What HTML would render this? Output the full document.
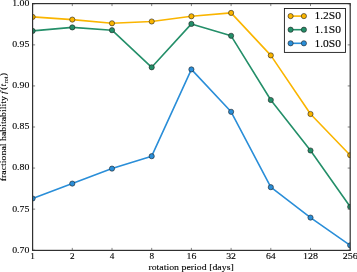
<!DOCTYPE html>
<html><head><meta charset="utf-8"><style>
html,body{margin:0;padding:0;background:#fff;width:357px;height:272px;overflow:hidden;}
svg{display:block;will-change:transform;font-family:"Liberation Serif",serif;}
text{stroke:#000;stroke-width:0.1;}
</style></head><body>
<svg width="357" height="272" viewBox="0 0 357 272">
<rect width="357" height="272" fill="#fff"/>
<defs><clipPath id="ax"><rect x="32.6" y="3.6" width="317.59999999999997" height="246.4"/></clipPath></defs>
<g clip-path="url(#ax)">
<polyline points="32.60,198.50 72.30,183.60 112.00,168.60 151.70,156.20 191.40,69.40 231.10,111.80 270.80,187.20 310.50,217.60 350.20,245.30" fill="none" stroke="#2a8ed8" stroke-width="1.6" stroke-linejoin="round"/>
<circle cx="32.60" cy="198.50" r="2.6" fill="#2a8ed8" stroke="#202020" stroke-width="0.6"/>
<circle cx="72.30" cy="183.60" r="2.6" fill="#2a8ed8" stroke="#202020" stroke-width="0.6"/>
<circle cx="112.00" cy="168.60" r="2.6" fill="#2a8ed8" stroke="#202020" stroke-width="0.6"/>
<circle cx="151.70" cy="156.20" r="2.6" fill="#2a8ed8" stroke="#202020" stroke-width="0.6"/>
<circle cx="191.40" cy="69.40" r="2.6" fill="#2a8ed8" stroke="#202020" stroke-width="0.6"/>
<circle cx="231.10" cy="111.80" r="2.6" fill="#2a8ed8" stroke="#202020" stroke-width="0.6"/>
<circle cx="270.80" cy="187.20" r="2.6" fill="#2a8ed8" stroke="#202020" stroke-width="0.6"/>
<circle cx="310.50" cy="217.60" r="2.6" fill="#2a8ed8" stroke="#202020" stroke-width="0.6"/>
<circle cx="350.20" cy="245.30" r="2.6" fill="#2a8ed8" stroke="#202020" stroke-width="0.6"/>
<polyline points="32.60,30.90 72.30,27.40 112.00,30.20 151.70,67.30 191.40,23.90 231.10,35.80 270.80,100.00 310.50,150.50 350.20,206.80" fill="none" stroke="#248f69" stroke-width="1.6" stroke-linejoin="round"/>
<circle cx="32.60" cy="30.90" r="2.6" fill="#248f69" stroke="#202020" stroke-width="0.6"/>
<circle cx="72.30" cy="27.40" r="2.6" fill="#248f69" stroke="#202020" stroke-width="0.6"/>
<circle cx="112.00" cy="30.20" r="2.6" fill="#248f69" stroke="#202020" stroke-width="0.6"/>
<circle cx="151.70" cy="67.30" r="2.6" fill="#248f69" stroke="#202020" stroke-width="0.6"/>
<circle cx="191.40" cy="23.90" r="2.6" fill="#248f69" stroke="#202020" stroke-width="0.6"/>
<circle cx="231.10" cy="35.80" r="2.6" fill="#248f69" stroke="#202020" stroke-width="0.6"/>
<circle cx="270.80" cy="100.00" r="2.6" fill="#248f69" stroke="#202020" stroke-width="0.6"/>
<circle cx="310.50" cy="150.50" r="2.6" fill="#248f69" stroke="#202020" stroke-width="0.6"/>
<circle cx="350.20" cy="206.80" r="2.6" fill="#248f69" stroke="#202020" stroke-width="0.6"/>
<polyline points="32.60,16.90 72.30,19.60 112.00,23.30 151.70,21.50 191.40,16.30 231.10,12.90 270.80,55.40 310.50,114.00 350.20,155.20" fill="none" stroke="#fab500" stroke-width="1.6" stroke-linejoin="round"/>
<circle cx="32.60" cy="16.90" r="2.6" fill="#fab500" stroke="#202020" stroke-width="0.6"/>
<circle cx="72.30" cy="19.60" r="2.6" fill="#fab500" stroke="#202020" stroke-width="0.6"/>
<circle cx="112.00" cy="23.30" r="2.6" fill="#fab500" stroke="#202020" stroke-width="0.6"/>
<circle cx="151.70" cy="21.50" r="2.6" fill="#fab500" stroke="#202020" stroke-width="0.6"/>
<circle cx="191.40" cy="16.30" r="2.6" fill="#fab500" stroke="#202020" stroke-width="0.6"/>
<circle cx="231.10" cy="12.90" r="2.6" fill="#fab500" stroke="#202020" stroke-width="0.6"/>
<circle cx="270.80" cy="55.40" r="2.6" fill="#fab500" stroke="#202020" stroke-width="0.6"/>
<circle cx="310.50" cy="114.00" r="2.6" fill="#fab500" stroke="#202020" stroke-width="0.6"/>
<circle cx="350.20" cy="155.20" r="2.6" fill="#fab500" stroke="#202020" stroke-width="0.6"/>
</g>
<line x1="32.60" y1="250.4" x2="32.60" y2="247.9" stroke="#777" stroke-width="0.9"/>
<line x1="32.60" y1="3.6" x2="32.60" y2="6.1" stroke="#777" stroke-width="0.9"/>
<line x1="72.30" y1="250.4" x2="72.30" y2="247.9" stroke="#777" stroke-width="0.9"/>
<line x1="72.30" y1="3.6" x2="72.30" y2="6.1" stroke="#777" stroke-width="0.9"/>
<line x1="112.00" y1="250.4" x2="112.00" y2="247.9" stroke="#777" stroke-width="0.9"/>
<line x1="112.00" y1="3.6" x2="112.00" y2="6.1" stroke="#777" stroke-width="0.9"/>
<line x1="151.70" y1="250.4" x2="151.70" y2="247.9" stroke="#777" stroke-width="0.9"/>
<line x1="151.70" y1="3.6" x2="151.70" y2="6.1" stroke="#777" stroke-width="0.9"/>
<line x1="191.40" y1="250.4" x2="191.40" y2="247.9" stroke="#777" stroke-width="0.9"/>
<line x1="191.40" y1="3.6" x2="191.40" y2="6.1" stroke="#777" stroke-width="0.9"/>
<line x1="231.10" y1="250.4" x2="231.10" y2="247.9" stroke="#777" stroke-width="0.9"/>
<line x1="231.10" y1="3.6" x2="231.10" y2="6.1" stroke="#777" stroke-width="0.9"/>
<line x1="270.80" y1="250.4" x2="270.80" y2="247.9" stroke="#777" stroke-width="0.9"/>
<line x1="270.80" y1="3.6" x2="270.80" y2="6.1" stroke="#777" stroke-width="0.9"/>
<line x1="310.50" y1="250.4" x2="310.50" y2="247.9" stroke="#777" stroke-width="0.9"/>
<line x1="310.50" y1="3.6" x2="310.50" y2="6.1" stroke="#777" stroke-width="0.9"/>
<line x1="350.20" y1="250.4" x2="350.20" y2="247.9" stroke="#777" stroke-width="0.9"/>
<line x1="350.20" y1="3.6" x2="350.20" y2="6.1" stroke="#777" stroke-width="0.9"/>
<line x1="32.6" y1="250.20" x2="35.1" y2="250.20" stroke="#777" stroke-width="0.9"/>
<line x1="350.2" y1="250.20" x2="347.7" y2="250.20" stroke="#777" stroke-width="0.9"/>
<line x1="32.6" y1="209.13" x2="35.1" y2="209.13" stroke="#777" stroke-width="0.9"/>
<line x1="350.2" y1="209.13" x2="347.7" y2="209.13" stroke="#777" stroke-width="0.9"/>
<line x1="32.6" y1="168.07" x2="35.1" y2="168.07" stroke="#777" stroke-width="0.9"/>
<line x1="350.2" y1="168.07" x2="347.7" y2="168.07" stroke="#777" stroke-width="0.9"/>
<line x1="32.6" y1="127.00" x2="35.1" y2="127.00" stroke="#777" stroke-width="0.9"/>
<line x1="350.2" y1="127.00" x2="347.7" y2="127.00" stroke="#777" stroke-width="0.9"/>
<line x1="32.6" y1="85.93" x2="35.1" y2="85.93" stroke="#777" stroke-width="0.9"/>
<line x1="350.2" y1="85.93" x2="347.7" y2="85.93" stroke="#777" stroke-width="0.9"/>
<line x1="32.6" y1="44.87" x2="35.1" y2="44.87" stroke="#777" stroke-width="0.9"/>
<line x1="350.2" y1="44.87" x2="347.7" y2="44.87" stroke="#777" stroke-width="0.9"/>
<line x1="32.6" y1="3.80" x2="35.1" y2="3.80" stroke="#777" stroke-width="0.9"/>
<line x1="350.2" y1="3.80" x2="347.7" y2="3.80" stroke="#777" stroke-width="0.9"/>
<rect x="32.6" y="3.6" width="317.60" height="246.80" fill="none" stroke="#303030" stroke-width="1.2"/>
<text x="29.4" y="252.60" text-anchor="end" font-family='"Liberation Serif", serif' font-size="8.6" textLength="17.2" lengthAdjust="spacingAndGlyphs">0.70</text>
<text x="29.4" y="211.53" text-anchor="end" font-family='"Liberation Serif", serif' font-size="8.6" textLength="17.2" lengthAdjust="spacingAndGlyphs">0.75</text>
<text x="29.4" y="170.47" text-anchor="end" font-family='"Liberation Serif", serif' font-size="8.6" textLength="17.2" lengthAdjust="spacingAndGlyphs">0.80</text>
<text x="29.4" y="129.40" text-anchor="end" font-family='"Liberation Serif", serif' font-size="8.6" textLength="17.2" lengthAdjust="spacingAndGlyphs">0.85</text>
<text x="29.4" y="88.33" text-anchor="end" font-family='"Liberation Serif", serif' font-size="8.6" textLength="17.2" lengthAdjust="spacingAndGlyphs">0.90</text>
<text x="29.4" y="47.27" text-anchor="end" font-family='"Liberation Serif", serif' font-size="8.6" textLength="17.2" lengthAdjust="spacingAndGlyphs">0.95</text>
<text x="29.4" y="5.50" text-anchor="end" font-family='"Liberation Serif", serif' font-size="8.6" textLength="17.2" lengthAdjust="spacingAndGlyphs">1.00</text>
<text x="32.60" y="259.1" text-anchor="middle" font-family='"Liberation Serif", serif' font-size="8.6" textLength="4.6" lengthAdjust="spacingAndGlyphs">1</text>
<text x="72.30" y="259.1" text-anchor="middle" font-family='"Liberation Serif", serif' font-size="8.6" textLength="4.6" lengthAdjust="spacingAndGlyphs">2</text>
<text x="112.00" y="259.1" text-anchor="middle" font-family='"Liberation Serif", serif' font-size="8.6" textLength="4.6" lengthAdjust="spacingAndGlyphs">4</text>
<text x="151.70" y="259.1" text-anchor="middle" font-family='"Liberation Serif", serif' font-size="8.6" textLength="4.6" lengthAdjust="spacingAndGlyphs">8</text>
<text x="191.40" y="259.1" text-anchor="middle" font-family='"Liberation Serif", serif' font-size="8.6" textLength="9.8" lengthAdjust="spacingAndGlyphs">16</text>
<text x="231.10" y="259.1" text-anchor="middle" font-family='"Liberation Serif", serif' font-size="8.6" textLength="9.8" lengthAdjust="spacingAndGlyphs">32</text>
<text x="270.80" y="259.1" text-anchor="middle" font-family='"Liberation Serif", serif' font-size="8.6" textLength="9.8" lengthAdjust="spacingAndGlyphs">64</text>
<text x="310.50" y="259.1" text-anchor="middle" font-family='"Liberation Serif", serif' font-size="8.6" textLength="15.0" lengthAdjust="spacingAndGlyphs">128</text>
<text x="350.20" y="259.1" text-anchor="middle" font-family='"Liberation Serif", serif' font-size="8.6" textLength="15.0" lengthAdjust="spacingAndGlyphs">256</text>
<text x="191.1" y="270.2" text-anchor="middle" font-family='"Liberation Serif", serif' font-size="9.0" textLength="85.4" lengthAdjust="spacingAndGlyphs">rotation period [days]</text>
<g transform="translate(6.3,0) rotate(-90)" font-family='"Liberation Serif", serif' font-size="9.0">
<text x="-181.2" y="0" textLength="85.0" lengthAdjust="spacingAndGlyphs">fractional habitability</text>
<text y="0"><tspan x="-93.8" font-style="italic">f</tspan><tspan x="-89.8">(</tspan><tspan x="-86.6" font-style="italic">t</tspan><tspan x="-83.2" font-size="6" dy="1.4">rot</tspan><tspan x="-76.0" dy="-1.4">)</tspan></text>
</g>
<rect x="284.4" y="8.5" width="61.10000000000002" height="43.9" fill="#fff" stroke="#1a1a1a" stroke-width="0.9"/>
<line x1="290.6" y1="16.1" x2="303.9" y2="16.1" stroke="#fab500" stroke-width="1.6"/>
<circle cx="290.6" cy="16.1" r="2.6" fill="#fab500" stroke="#202020" stroke-width="0.6"/>
<circle cx="303.9" cy="16.1" r="2.6" fill="#fab500" stroke="#202020" stroke-width="0.6"/>
<text x="314.4" y="19.40" font-family='"Liberation Serif", serif' font-size="9.9" textLength="26.6" lengthAdjust="spacingAndGlyphs">1.2S0</text>
<line x1="290.6" y1="29.7" x2="303.9" y2="29.7" stroke="#248f69" stroke-width="1.6"/>
<circle cx="290.6" cy="29.7" r="2.6" fill="#248f69" stroke="#202020" stroke-width="0.6"/>
<circle cx="303.9" cy="29.7" r="2.6" fill="#248f69" stroke="#202020" stroke-width="0.6"/>
<text x="314.4" y="33.00" font-family='"Liberation Serif", serif' font-size="9.9" textLength="26.6" lengthAdjust="spacingAndGlyphs">1.1S0</text>
<line x1="290.6" y1="43.3" x2="303.9" y2="43.3" stroke="#2a8ed8" stroke-width="1.6"/>
<circle cx="290.6" cy="43.3" r="2.6" fill="#2a8ed8" stroke="#202020" stroke-width="0.6"/>
<circle cx="303.9" cy="43.3" r="2.6" fill="#2a8ed8" stroke="#202020" stroke-width="0.6"/>
<text x="314.4" y="46.60" font-family='"Liberation Serif", serif' font-size="9.9" textLength="26.6" lengthAdjust="spacingAndGlyphs">1.0S0</text>
</svg>
</body></html>
